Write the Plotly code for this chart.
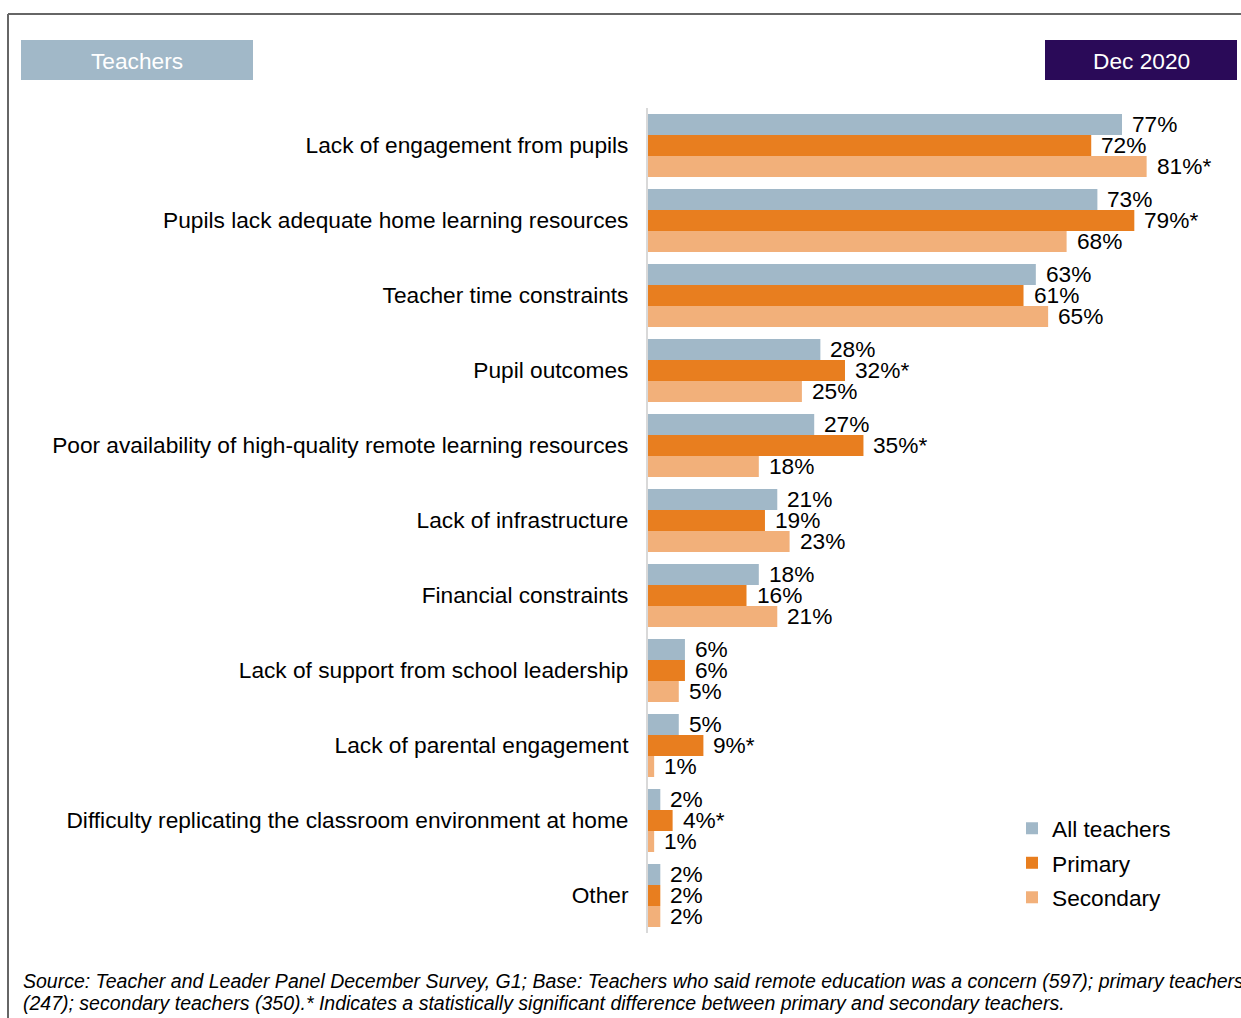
import plotly.graph_objects as go

categories = [
    "Lack of engagement from pupils",
    "Pupils lack adequate home learning resources",
    "Teacher time constraints",
    "Pupil outcomes",
    "Poor availability of high-quality remote learning resources",
    "Lack of infrastructure",
    "Financial constraints",
    "Lack of support from school leadership",
    "Lack of parental engagement",
    "Difficulty replicating the classroom environment at home",
    "Other",
]
all_teachers = [77, 73, 63, 28, 27, 21, 18, 6, 5, 2, 2]
primary = [72, 79, 61, 32, 35, 19, 16, 6, 9, 4, 2]
secondary = [81, 68, 65, 25, 18, 23, 21, 5, 1, 1, 2]
primary_sig = ["", "*", "", "*", "*", "", "", "", "*", "*", ""]
secondary_sig = ["*", "", "", "", "", "", "", "", "", "", ""]
all_sig = [""] * len(categories)

series = [
    ("All teachers", all_teachers, all_sig, "#A1B8C8"),
    ("Primary", primary, primary_sig, "#E87E1F"),
    ("Secondary", secondary, secondary_sig, "#F2B07A"),
]

footer_lines = [
    "Source: Teacher and Leader Panel December Survey, G1; Base: Teachers who said remote education was a concern (597); primary teachers",
    "(247); secondary teachers (350).* Indicates a statistically significant difference between primary and secondary teachers.",
]

W, H = 1241, 1018
PL, PR, PT, PB = 648, 1200, 108, 933
XMAX = (PR - PL) / 6.156

def px(x):
    return (x - PL) / (PR - PL)

def py(y):
    return (PB - y) / (PB - PT)

FONT = "Liberation Sans, Arial, sans-serif"
FS = 22.7
fig = go.Figure()
for i, (name, vals, sig, col) in enumerate(series):
    fig.add_trace(go.Bar(
        y=categories, x=vals, name=name, orientation="h",
        marker=dict(color=col, line=dict(width=0)),
        legendgroup=name,
    ))

annotations = []
group_px = (PB - PT) / len(categories)
bar_px = group_px * (1 - 0.16) / 3
for i, (name, vals, sig, col) in enumerate(series):
    for cat, v, s in zip(categories, vals, sig):
        annotations.append(dict(
            x=v, y=cat, xref="x", yref="y", text=f"{v}%{s}",
            showarrow=False, xanchor="left", yanchor="middle",
            xshift=8, yshift=(1 - i) * bar_px + 1,
            font=dict(size=FS, color="#000000", family=FONT),
        ))

shapes = [
    dict(type="rect", xref="paper", yref="paper", x0=px(21), x1=px(253), y0=py(80), y1=py(40),
         fillcolor="#A1B8C8", line=dict(width=0), layer="below"),
    dict(type="rect", xref="paper", yref="paper", x0=px(1045), x1=px(1237), y0=py(80), y1=py(40),
         fillcolor="#2A0A58", line=dict(width=0), layer="below"),
    dict(type="line", xref="paper", yref="paper", x0=px(8), x1=px(1245), y0=py(14), y1=py(14),
         line=dict(color="#666666", width=2)),
    dict(type="line", xref="paper", yref="paper", x0=px(8), x1=px(8), y0=py(14), y1=py(1025),
         line=dict(color="#666666", width=2)),
]
annotations += [
    dict(x=px(137), y=py(61), xref="paper", yref="paper", text="Teachers", showarrow=False,
         xanchor="center", yanchor="middle", font=dict(size=FS, color="#FFFFFF", family=FONT)),
    dict(x=px(1141), y=py(61), xref="paper", yref="paper", text="Dec 2020", showarrow=False,
         xanchor="center", yanchor="middle", font=dict(size=FS, color="#FFFFFF", family=FONT)),
]
for k, line in enumerate(footer_lines):
    annotations.append(dict(
        x=px(21), y=py(981 + 22 * k), xref="paper", yref="paper",
        text=f"<i>{line}</i>", showarrow=False, xanchor="left", yanchor="middle", align="left",
        font=dict(size=19.5, color="#000000", family=FONT)))

fig.update_layout(
    width=W, height=H,
    margin=dict(l=PL, r=W - PR, t=PT, b=H - PB, autoexpand=False),
    paper_bgcolor="white", plot_bgcolor="white",
    barmode="group", bargap=0.16, bargroupgap=0,
    font=dict(family=FONT, size=FS, color="#000000"),
    xaxis=dict(range=[0, XMAX], visible=False, fixedrange=True),
    yaxis=dict(autorange="reversed", showline=True, linecolor="#D9D9D9", linewidth=2,
               ticks="", ticklabelstandoff=13, tickfont=dict(size=FS, color="#000000"),
               showgrid=False, zeroline=False, fixedrange=True),
    legend=dict(x=px(1012), y=py(807), xanchor="left", yanchor="top",
                font=dict(size=FS, color="#000000"), tracegroupgap=2,
                itemwidth=30, bgcolor="rgba(0,0,0,0)"),
    shapes=shapes, annotations=annotations,
)

fig.write_html("out.html", config={"displayModeBar": False},
               post_script="document.body.style.margin='0';document.body.style.overflow='hidden';")
